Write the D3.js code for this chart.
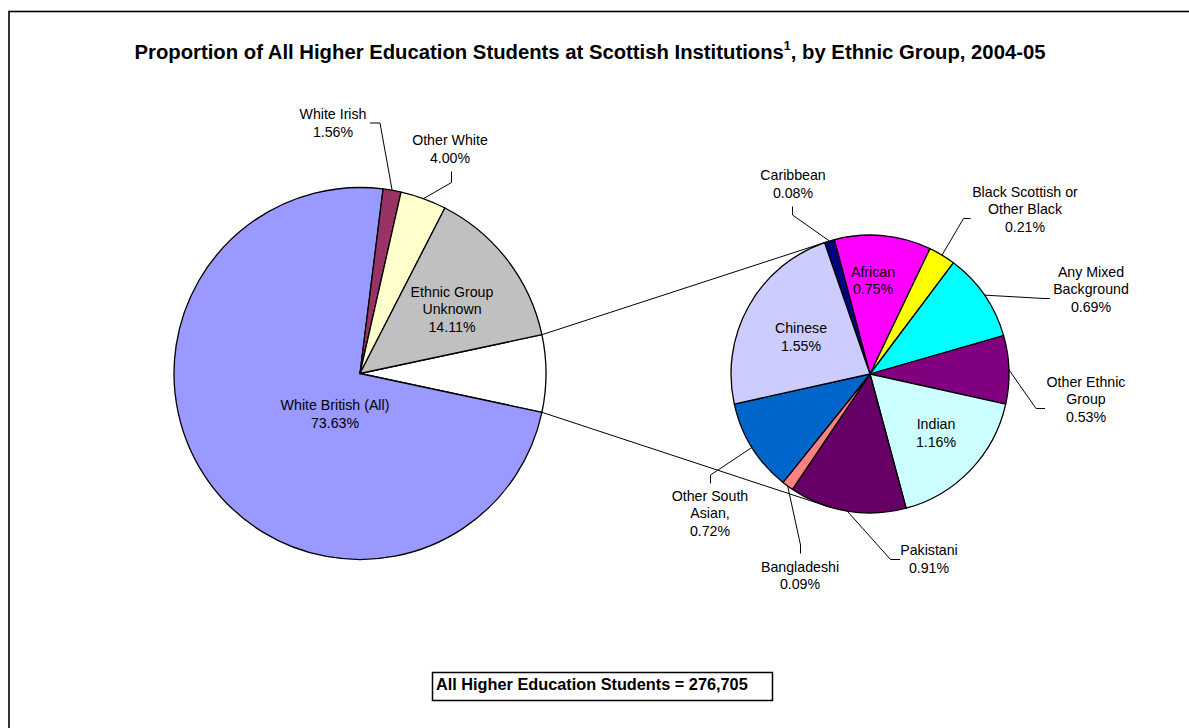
<!DOCTYPE html>
<html>
<head>
<meta charset="utf-8">
<script src="https://cdn.jsdelivr.net/npm/d3@7"></script>
<style>
  body { margin: 0; background: #fff; }
  text { font-family: "Liberation Sans", Arial, sans-serif; fill: #000; }
</style>
</head>
<body>
<svg id="chart" width="1189" height="728"></svg>
<script>
// main pie data (clockwise from the "other" slice that gets exploded)
var mainNames  = ["Other", "White British (All)", "White Irish", "Other White", "Ethnic Group Unknown"];
var mainValues = [6.69, 73.63, 1.56, 4.00, 14.11];
var mainColors = ["#FFFFFF", "#9999FF", "#993366", "#FFFFCC", "#C0C0C0"];

// secondary pie data (clockwise from Caribbean)
var subNames  = ["Caribbean", "African", "Black Scottish or Other Black", "Any Mixed Background",
                 "Other Ethnic Group", "Indian", "Pakistani", "Bangladeshi", "Other South Asian,", "Chinese"];
var subValues = [0.08, 0.75, 0.21, 0.69, 0.53, 1.16, 0.91, 0.09, 0.72, 1.55];
var subColors = ["#000080", "#FF00FF", "#FFFF00", "#00FFFF", "#800080",
                 "#CCFFFF", "#660066", "#FF8080", "#0066CC", "#CCCCFF"];

var totalStudents = "276,705";

var svg = d3.select("#chart");
var deg = Math.PI / 180;

// frame
svg.append("rect")
    .attr("x", 9).attr("y", 11.5)
    .attr("width", 1300).attr("height", 900)
    .attr("fill", "none").attr("stroke", "#000").attr("stroke-width", 1.6);

// title
var title = svg.append("text")
    .attr("x", 590).attr("y", 59)
    .attr("text-anchor", "middle")
    .style("font-size", "20.3px").style("font-weight", "bold");
title.append("tspan").text("Proportion of All Higher Education Students at Scottish Institutions");
title.append("tspan").attr("dy", -9).style("font-size", "12.5px").text("1");
title.append("tspan").attr("dy", 9).text(", by Ethnic Group, 2004-05");

// pie geometry
var c1 = {x: 360, y: 373.5, r: 186};
var c2 = {x: 870, y: 374, r: 139};

var otherShare = mainValues[0] / d3.sum(mainValues) * 360;
var pie1 = d3.pie().sort(null)
    .startAngle((90 - otherShare / 2) * deg)
    .endAngle((450 - otherShare / 2) * deg);
var pie2 = d3.pie().sort(null)
    .startAngle(-19.1 * deg)
    .endAngle(340.9 * deg);

var arc1 = d3.arc().innerRadius(0).outerRadius(c1.r);
var arc2 = d3.arc().innerRadius(0).outerRadius(c2.r);

var arcs1 = pie1(mainValues);
var arcs2 = pie2(subValues);

// connector lines (tangents from other slice edges to second pie)
function edgePt(c, a) { return [c.x + c.r * Math.sin(a), c.y - c.r * Math.cos(a)]; }
var pTop = edgePt(c1, arcs1[0].startAngle), pBot = edgePt(c1, arcs1[0].endAngle);
function tangent(p, sign) {
    var dx = p[0] - c2.x, dy = p[1] - c2.y, d = Math.sqrt(dx * dx + dy * dy);
    var base = Math.atan2(dy, dx), off = Math.acos(c2.r / d);
    var a = base + sign * off;
    return [c2.x + c2.r * Math.cos(a), c2.y + c2.r * Math.sin(a)];
}
var conn = [[pTop, tangent(pTop, 1)], [pBot, tangent(pBot, -1)]];

var g1 = svg.append("g").attr("transform", "translate(" + c1.x + "," + c1.y + ")");
g1.selectAll("path").data(arcs1).enter().append("path")
    .attr("d", arc1)
    .attr("fill", function(d, i) { return mainColors[i]; })
    .attr("stroke", "#000").attr("stroke-width", 1.3).attr("stroke-linejoin", "round");

var g2 = svg.append("g").attr("transform", "translate(" + c2.x + "," + c2.y + ")");
g2.selectAll("path").data(arcs2).enter().append("path")
    .attr("d", arc2)
    .attr("fill", function(d, i) { return subColors[i]; })
    .attr("stroke", "#000").attr("stroke-width", 1.3).attr("stroke-linejoin", "round");

svg.selectAll("line.conn").data(conn).enter().append("line")
    .attr("class", "conn")
    .attr("x1", function(d) { return d[0][0]; }).attr("y1", function(d) { return d[0][1]; })
    .attr("x2", function(d) { return d[1][0]; }).attr("y2", function(d) { return d[1][1]; })
    .attr("stroke", "#000").attr("stroke-width", 1);

// label layout: text lines, center x, first line y, optional leader [attach, elbow]
var labels1 = {
    "White British (All)":  {lines: ["White British (All)"], x: 335, y: 405},
    "White Irish":          {lines: ["White Irish"], x: 333, y: 114, lead: [[370, 123], [380, 123]]},
    "Other White":          {lines: ["Other White"], x: 450, y: 140, lead: [[451.5, 171.5], [451.5, 182.5]]},
    "Ethnic Group Unknown": {lines: ["Ethnic Group", "Unknown"], x: 452, y: 291.7}
};
var labels2 = {
    "Caribbean":  {lines: ["Caribbean"], x: 793, y: 175, lead: [[792.5, 206.5], [792.5, 215]]},
    "African":    {lines: ["African"], x: 873, y: 271.7},
    "Black Scottish or Other Black": {lines: ["Black Scottish or", "Other Black"], x: 1025, y: 191.7,
                   lead: [[970.5, 218.5], [963.5, 218.5]]},
    "Any Mixed Background": {lines: ["Any Mixed", "Background"], x: 1091, y: 271.7,
                   lead: [[1050, 298.5], [1044, 298.5]]},
    "Other Ethnic Group": {lines: ["Other Ethnic", "Group"], x: 1086, y: 381.7,
                   lead: [[1045, 408.5], [1036, 408.5]]},
    "Indian":     {lines: ["Indian"], x: 936, y: 424},
    "Pakistani":  {lines: ["Pakistani"], x: 929, y: 550, lead: [[900, 559.5], [890.5, 559.5]]},
    "Bangladeshi": {lines: ["Bangladeshi"], x: 800, y: 566.7, lead: [[800.5, 553.5], [800.5, 545]]},
    "Other South Asian,": {lines: ["Other South", "Asian,"], x: 710, y: 495.7, lead: [[710.5, 483.5], [710.5, 475]]},
    "Chinese":    {lines: ["Chinese"], x: 801, y: 328.3}
};

var lineH = 17.6;
function drawLabels(arcs, names, values, layout, c) {
    arcs.forEach(function(d, i) {
        var L = layout[names[i]];
        if (!L) return;
        var rows = L.lines.concat([values[i].toFixed(2) + "%"]);
        var t = svg.append("text")
            .attr("text-anchor", "middle")
            .style("font-size", "14.2px");
        rows.forEach(function(s, k) {
            t.append("tspan").attr("x", L.x).attr("y", L.y + k * lineH).attr("dy", "0.35em").text(s);
        });
        if (L.lead) {
            var mid = (d.startAngle + d.endAngle) / 2;
            var p = edgePt(c, mid);
            svg.append("polyline")
                .attr("points", [L.lead[0], L.lead[1], p].map(function(q) { return q.join(","); }).join(" "))
                .attr("fill", "none").attr("stroke", "#000").attr("stroke-width", 1);
        }
    });
}
drawLabels(arcs1, mainNames, mainValues, labels1, c1);
drawLabels(arcs2, subNames, subValues, labels2, c2);

// total box
svg.append("rect")
    .attr("x", 432.5).attr("y", 672.5).attr("width", 340).attr("height", 28)
    .attr("fill", "#fff").attr("stroke", "#000").attr("stroke-width", 1.5);
svg.append("text")
    .attr("x", 436).attr("y", 684).attr("dy", "0.35em")
    .style("font-size", "16.3px").style("font-weight", "bold")
    .text("All Higher Education Students = " + totalStudents);
</script>
</body>
</html>
